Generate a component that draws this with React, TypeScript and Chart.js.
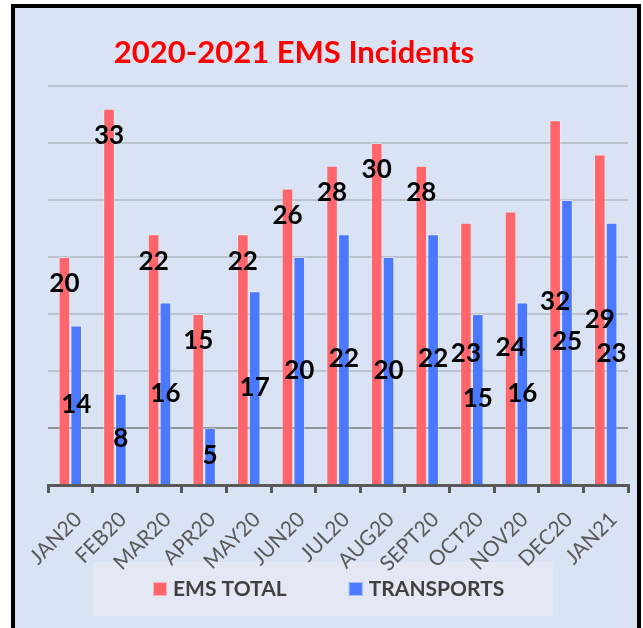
import { useEffect, useRef } from "react";
import { Chart, registerables } from "chart.js";

Chart.register(...registerables);

const months = ["JAN20", "FEB20", "MAR20", "APR20", "MAY20", "JUN20", "JUL20", "AUG20", "SEPT20", "OCT20", "NOV20", "DEC20", "JAN21"];
const emsTotal = [20, 33, 22, 15, 22, 26, 28, 30, 28, 23, 24, 32, 29];
const transports = [14, 8, 16, 5, 17, 20, 22, 20, 22, 15, 16, 25, 23];
const seriesNames = ["EMS TOTAL", "TRANSPORTS"];
const chartTitle = "2020-2021 EMS Incidents";
const yMax = 35;
const yStep = 5;
// where each EMS TOTAL value label sits: near the bar end or at its middle
const emsLabelAnchor = ["end", "end", "end", "end", "end", "end", "end", "end", "end", "center", "center", "center", "center"];

const RED = "#ff666b";
const BLUE = "#4a78ff";

const titlePlugin = {
  id: "customTitle",
  afterDraw(chart: any) {
    const { ctx } = chart;
    ctx.save();
    ctx.font = "bold 31px Lato";
    ctx.fillStyle = "#ff0000";
    ctx.textAlign = "center";
    ctx.textBaseline = "alphabetic";
    ctx.fillText(chartTitle, 294, 63);
    ctx.restore();
  },
};

const legendPlugin = {
  id: "customLegend",
  beforeDraw(chart: any) {
    const { ctx } = chart;
    ctx.save();
    ctx.fillStyle = "#e3e8f4";
    ctx.fillRect(93, 562, 460, 54);
    ctx.restore();
  },
  afterDraw(chart: any) {
    const { ctx } = chart;
    ctx.save();
    ctx.font = "bold 21px Lato";
    ctx.textBaseline = "middle";
    ctx.textAlign = "left";
    let x = 153;
    chart.data.datasets.forEach((ds: any) => {
      ctx.fillStyle = ds.backgroundColor;
      ctx.fillRect(x, 582, 14, 14);
      ctx.strokeStyle = "rgba(255,255,255,0.5)";
      ctx.lineWidth = 1;
      ctx.strokeRect(x + 0.5, 582.5, 13, 13);
      ctx.fillStyle = "#404040";
      ctx.fillText(ds.label, x + 20, 589);
      x += 20 + ctx.measureText(ds.label).width + 62;
    });
    ctx.restore();
  },
};

const valueLabelPlugin = {
  id: "valueLabels",
  afterDatasetsDraw(chart: any) {
    const { ctx } = chart;
    ctx.save();
    ctx.font = "bold 26px Lato";
    ctx.fillStyle = "#000000";
    ctx.textAlign = "center";
    ctx.textBaseline = "middle";
    chart.data.datasets.forEach((ds: any, di: number) => {
      const meta = chart.getDatasetMeta(di);
      meta.data.forEach((el: any, i: number) => {
        const anchor = di === 0 ? emsLabelAnchor[i] : "center";
        const y = anchor === "center" ? (el.y + el.base) / 2 : el.y + 27;
        ctx.fillText(String(ds.data[i]), el.x, y);
      });
    });
    ctx.restore();
  },
};

export default function App() {
  const canvasRef = useRef<HTMLCanvasElement | null>(null);

  useEffect(() => {
    if (!canvasRef.current) return;
    const chart = new Chart(canvasRef.current, {
      type: "bar",
      data: {
        labels: months,
        datasets: [
          {
            label: seriesNames[0],
            data: emsTotal,
            backgroundColor: RED,
            borderColor: "rgba(255,255,255,0.4)",
            borderWidth: 1,
            categoryPercentage: 0.53,
            barPercentage: 0.98,
          },
          {
            label: seriesNames[1],
            data: transports,
            backgroundColor: BLUE,
            borderColor: "rgba(255,255,255,0.4)",
            borderWidth: 1,
            categoryPercentage: 0.53,
            barPercentage: 0.98,
          },
        ],
      },
      options: {
        responsive: false,
        animation: false,
        devicePixelRatio: 1,
        layout: { padding: { left: 48, right: 15, top: 86, bottom: 0 } },
        plugins: {
          legend: { display: false },
          title: { display: false },
          tooltip: { enabled: false },
        },
        scales: {
          x: {
            afterFit(scale: any) {
              scale.height = 143;
            },
            grid: {
              display: true,
              drawOnChartArea: false,
              drawTicks: true,
              tickLength: 8,
              tickColor: "#595959",
              tickWidth: 3,
              color: "#595959",
              lineWidth: 3,
            },
            border: { display: true, color: "#595959", width: 3 },
            ticks: {
              autoSkip: false,
              minRotation: 45,
              maxRotation: 45,
              padding: 14,
              labelOffset: 8,
              color: "#595959",
              font: { family: "Lato", size: 21 },
            },
          },
          y: {
            min: 0,
            max: yMax,
            afterFit(scale: any) {
              scale.width = 0;
            },
            ticks: { display: false, stepSize: yStep },
            border: { display: false },
            grid: {
              drawTicks: false,
              lineWidth: 2,
              color: (ctx: any) =>
                ctx.tick && ctx.tick.value === 0
                  ? "rgba(0,0,0,0)"
                  : ctx.tick && ctx.tick.value === 5
                  ? "#8f939a"
                  : "#bcc3cf",
            },
          },
        },
      },
      plugins: [legendPlugin, valueLabelPlugin, titlePlugin],
    });
    return () => chart.destroy();
  }, []);

  return (
    <div style={{ position: "absolute", left: 0, top: 0, width: 643, height: 628, overflow: "hidden", background: "#ffffff" }}>
      <div
        style={{
          position: "absolute",
          left: 11,
          top: 4,
          width: 622,
          height: 640,
          border: "4px solid #000000",
          background: "#dae3f3",
        }}
      />
      <canvas
        ref={canvasRef}
        width={643}
        height={628}
        style={{ position: "absolute", left: 0, top: 0, width: 643, height: 628 }}
      />
    </div>
  );
}
